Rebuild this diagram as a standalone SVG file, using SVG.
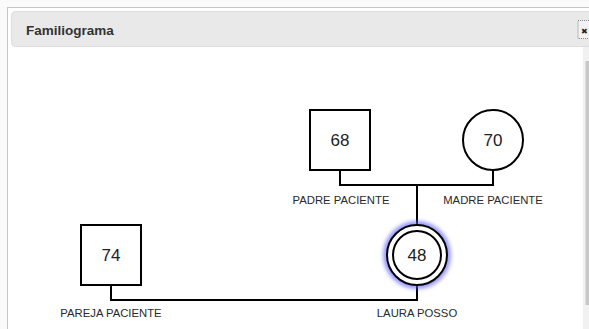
<svg xmlns="http://www.w3.org/2000/svg" width="589" height="329" viewBox="0 0 589 329">
<defs>
<style>
.shape{fill:#fff;stroke:#000;stroke-width:2}
.num{font-family:"Liberation Sans",Arial,sans-serif;font-size:17px;fill:#222;text-anchor:middle}
.lbl{font-family:"Liberation Sans",Arial,sans-serif;font-size:11.3px;fill:#2a2a2a;text-anchor:middle}
.conn{fill:none;stroke:#000;stroke-width:2}
</style>
<filter id="glow" x="-50%" y="-50%" width="200%" height="200%">
<feGaussianBlur stdDeviation="2.2"/>
</filter>
</defs>
<rect x="0" y="0" width="589" height="329" fill="#fafafa"/>
<rect x="7.5" y="7.5" width="590" height="330" fill="#fff" stroke="#c5c5c5"/>
<g id="header">
<rect x="11.5" y="11.5" width="590" height="35" rx="4" fill="#e9e9e9" stroke="#dddddd"/>
<text x="26" y="35" font-family="Liberation Sans,Arial,sans-serif" font-size="13.5" font-weight="bold" fill="#333">Familiograma</text>
<rect x="578" y="20.5" width="14" height="18" fill="#f2f2f2" stroke="#888" stroke-dasharray="1,1"/>
<text x="581" y="34" font-family="DejaVu Sans,sans-serif" font-size="8" fill="#222">✖</text>
</g>
<g id="scrollbar">
<rect x="583" y="47" width="6" height="282" fill="#f1f1f1"/>
<rect x="585.5" y="61" width="4" height="244" fill="#c8c8c8"/>
</g>
<g id="connectors">
<polyline class="conn" points="340,170 340,185 493,185 493,170"/>
<line class="conn" x1="417" y1="185" x2="417" y2="225"/>
<polyline class="conn" points="111,285 111,300 417,300 417,285"/>
</g>
<g id="padre">
<rect class="shape" x="310" y="110" width="60" height="60"/>
<text class="num" x="340" y="146">68</text>
<text class="lbl" x="341" y="204">PADRE PACIENTE</text>
</g>
<g id="madre">
<circle class="shape" cx="493" cy="140" r="30"/>
<text class="num" x="493" y="146">70</text>
<text class="lbl" x="493" y="204">MADRE PACIENTE</text>
</g>
<g id="pareja">
<rect class="shape" x="81" y="225" width="60" height="60"/>
<text class="num" x="111" y="261">74</text>
<text class="lbl" x="111" y="317">PAREJA PACIENTE</text>
</g>
<g id="laura">
<circle cx="417" cy="255" r="31" fill="none" stroke="#5a5aff" stroke-width="5" filter="url(#glow)" opacity="0.75"/>
<circle class="shape" cx="417" cy="255" r="30"/>
<circle class="shape" cx="417" cy="255" r="24"/>
<text class="num" x="417" y="261">48</text>
<text class="lbl" x="417" y="317">LAURA POSSO</text>
</g>
</svg>
